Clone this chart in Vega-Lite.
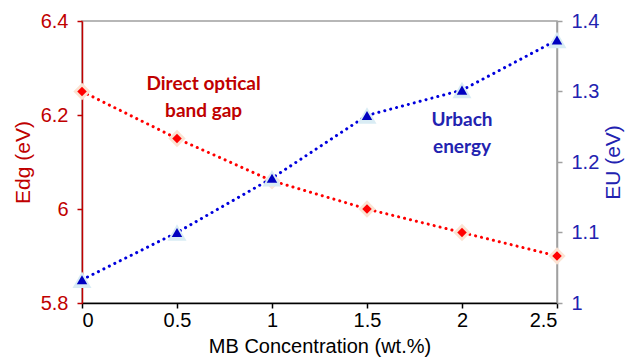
{
  "$schema": "https://vega.github.io/schema/vega-lite/v6.json",
  "width": 475,
  "height": 282,
  "autosize": "none",
  "padding": {"left": 82, "top": 21, "right": 74, "bottom": 57},
  "background": "white",
  "config": {
    "view": {"stroke": "#a0a0a0", "strokeWidth": 1.5},
    "font": "Liberation Sans",
    "axis": {"grid": false, "labelFont": "Liberation Sans", "titleFont": "Liberation Sans", "labelFontSize": 20, "titleFontSize": 20, "titleFontWeight": "normal", "tickSize": 5, "domainWidth": 1.5, "tickWidth": 1.5}
  },
  "datasets": {
    "pts": [
      {"x": 0, "edg": 6.25, "eu": 1.033},
      {"x": 0.5, "edg": 6.15, "eu": 1.1},
      {"x": 1, "edg": 6.06, "eu": 1.177},
      {"x": 1.5, "edg": 6.0, "eu": 1.266},
      {"x": 2, "edg": 5.95, "eu": 1.302},
      {"x": 2.5, "edg": 5.9, "eu": 1.373}
    ]
  },
  "data": {"name": "pts"},
  "encoding": {
    "x": {"field": "x", "type": "quantitative", "scale": {"domain": [0, 2.5], "nice": false, "zero": false},
      "axis": {"values": [0, 0.5, 1, 1.5, 2, 2.5], "format": "~g", "title": "MB Concentration (wt.%)", "domainColor": "#000000", "tickColor": "#000000", "labelColor": "#000000", "titleColor": "#000000", "labelPadding": 2, "titlePadding": 6}}
  },
  "layer": [
    {
      "encoding": {
        "y": {"field": "edg", "type": "quantitative", "scale": {"domain": [5.8, 6.4], "nice": false, "zero": false},
          "axis": {"orient": "left", "values": [5.8, 6, 6.2, 6.4], "format": "~g", "title": "Edg (eV)", "domainColor": "#c00000", "tickColor": "#c00000", "labelColor": "#c00000", "titleColor": "#c00000", "titleFontSize": 21, "labelPadding": 9, "titlePadding": 7}}
      },
      "layer": [
        {"mark": {"type": "line", "color": "#ff0000", "strokeWidth": 3, "strokeDash": [0.1, 6], "strokeCap": "round"}},
        {"mark": {"type": "point", "shape": "diamond", "filled": true, "color": "#fbe3d3", "size": 300, "opacity": 1}},
        {"mark": {"type": "point", "shape": "diamond", "filled": true, "color": "#ff0000", "size": 90, "opacity": 1}},
        {
          "data": {"values": [{"x": 0.64, "edg": 6.267, "label": ["Direct optical", "band gap"]}]},
          "mark": {"type": "text", "font": "Lato", "fontWeight": "bold", "fontSize": 19, "color": "#c00000", "lineHeight": 27, "align": "center"},
          "encoding": {"text": {"field": "label"}}
        }
      ]
    },
    {
      "encoding": {
        "y": {"field": "eu", "type": "quantitative", "scale": {"domain": [1, 1.4], "nice": false, "zero": false},
          "axis": {"orient": "right", "values": [1, 1.1, 1.2, 1.3, 1.4], "format": "~g", "title": "EU (eV)", "domainColor": "#a0a0a0", "tickColor": "#a0a0a0", "labelColor": "#2222b0", "titleColor": "#2222b0", "titleAngle": 270, "titleBaseline": "top", "titleFontSize": 21, "titlePadding": 4, "labelPadding": 9}}
      },
      "layer": [
        {"mark": {"type": "line", "color": "#0000dd", "strokeWidth": 3, "strokeDash": [0.1, 6], "strokeCap": "round"}},
        {"mark": {"type": "point", "shape": "triangle-up", "filled": true, "color": "#d9ecf4", "size": 360, "opacity": 1}},
        {"mark": {"type": "point", "shape": "triangle-up", "filled": true, "color": "#0000c0", "size": 110, "opacity": 1}},
        {
          "data": {"values": [{"x": 2.0, "eu": 1.259, "label": ["Urbach", "energy"]}]},
          "mark": {"type": "text", "font": "Lato", "fontWeight": "bold", "fontSize": 19, "color": "#2222b0", "lineHeight": 27, "align": "center"},
          "encoding": {"text": {"field": "label"}}
        }
      ]
    }
  ],
  "resolve": {"scale": {"y": "independent"}}
}
